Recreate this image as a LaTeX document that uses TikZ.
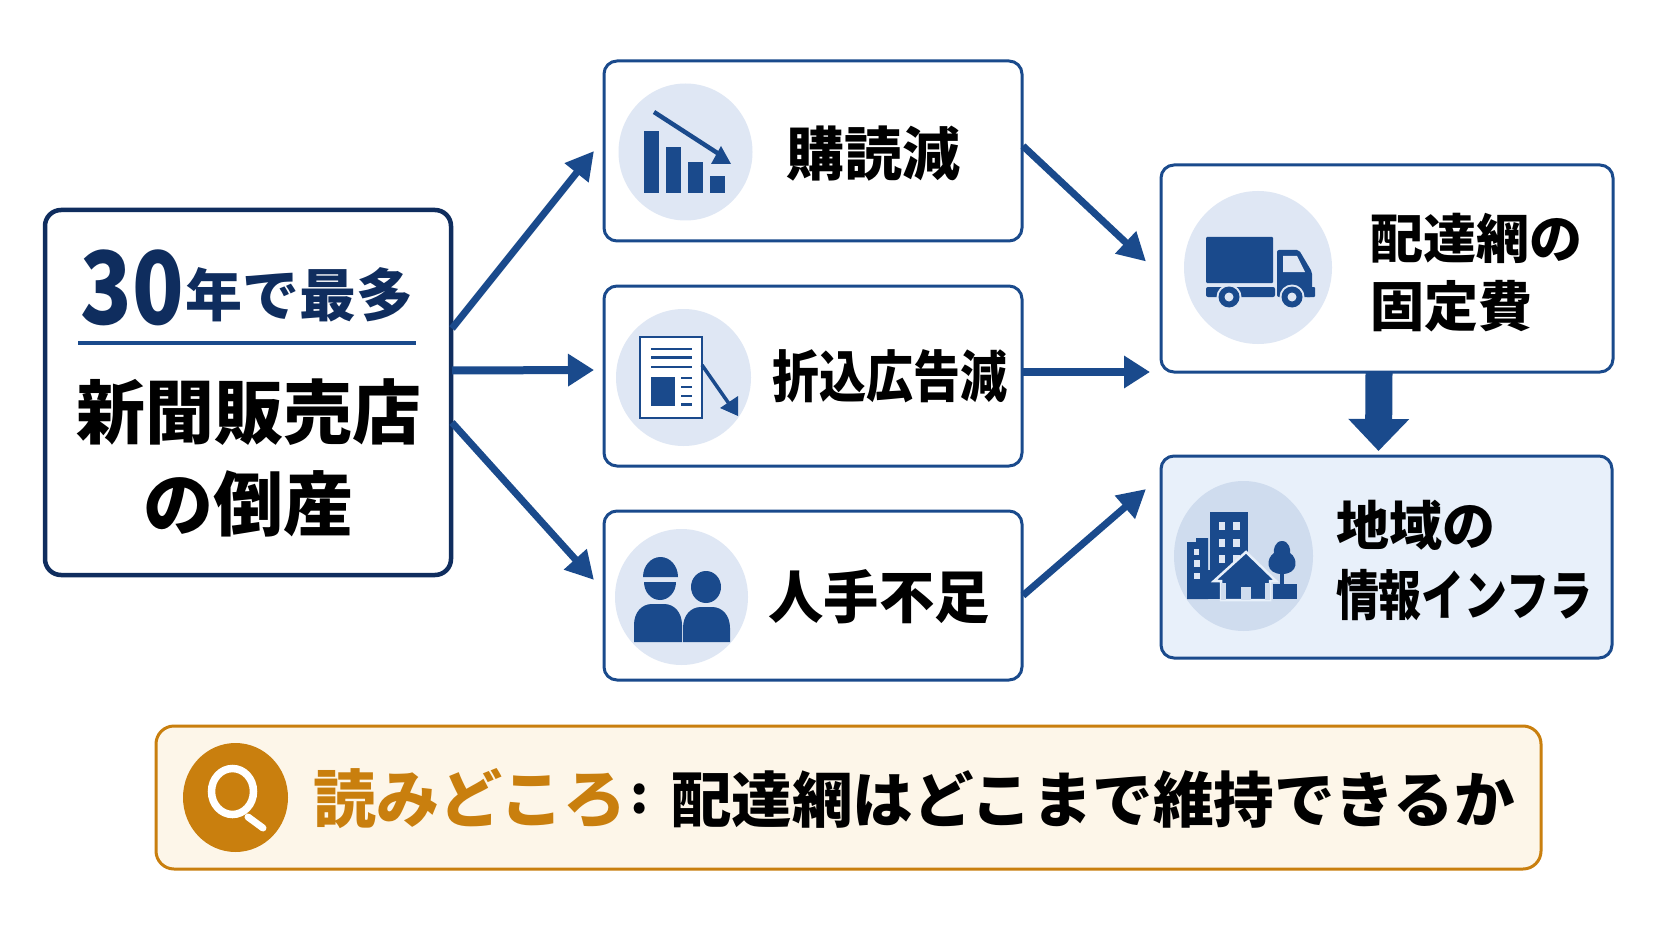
\documentclass[tikz,border=0pt]{standalone}
\usepackage{fontspec}
\usepackage{graphicx}
\usetikzlibrary{arrows.meta,calc}
\newfontfamily\jp{Noto Sans CJK JP}[BoldFont={Noto Sans CJK JP Black}]
\newcommand\jpf[1]{\jp\bfseries\fontsize{#1}{#1}\selectfont}
\newcommand\sx[2]{\scalebox{#1}[1]{#2}}
\definecolor{ablue}{HTML}{1A4A8C}
\definecolor{navy}{HTML}{0F2D5E}
\definecolor{disc}{HTML}{DFE7F4}
\definecolor{disctwo}{HTML}{CFDCEE}
\definecolor{paleblue}{HTML}{E8F0FA}
\definecolor{ochre}{HTML}{C97F0E}
\definecolor{cream}{HTML}{FDF6E9}
\tikzset{
  boxbase/.style={draw=ablue,fill=white,line width=3pt,rounded corners=13pt,inner sep=0pt,outer sep=0pt},
  leftbox/.style={boxbase,draw=navy,line width=4.5pt,rounded corners=16pt},
  infobox/.style={boxbase,fill=paleblue},
  notebox/.style={boxbase,draw=ochre,fill=cream,rounded corners=18pt},
  label/.style={inner sep=0pt,outer sep=0pt,align=center,text=black},
  conn/.style={-{Triangle[length=28pt,width=29pt]},line width=7pt,draw=ablue},
  connflat/.style={-{Triangle[length=26pt,width=31pt]},line width=8pt,draw=ablue},
  connbig/.style={-{Triangle[length=32pt,width=59pt]},line width=27pt,draw=ablue},
  icon/.style={fill=ablue,draw=none},
}
\begin{document}
\begin{tikzpicture}[x=1pt,y=-1pt]
\useasboundingbox[fill=white] (0,0) rectangle (1672,941);
% boxes
\node[leftbox,minimum width=406pt,minimum height=365pt] (left) at (248,392.5) {};
\node[boxbase,minimum width=418pt,minimum height=180pt] (b1) at (813,151) {};
\node[boxbase,minimum width=418pt,minimum height=180pt] (b2) at (813,376) {};
\node[boxbase,minimum width=418pt,minimum height=169pt] (b3) at (813,595.5) {};
\node[boxbase,minimum width=452pt,minimum height=207pt] (r1) at (1387,268.5) {};
\node[infobox,minimum width=451pt,minimum height=202pt] (r2) at (1386.5,557) {};
\node[notebox,minimum width=1385pt,minimum height=143pt] (note) at (848.5,797.5) {};
% connectors
\draw[conn] ($(left.east)+(1,-64)$) -- ($(b1.west)+(-10,0)$);
\draw[connflat] ($(left.east)+(1,-22)$) -- ($(b2.west)+(-10,-6)$);
\draw[conn] ($(left.east)+(1,30)$) -- ($(b3.west)+(-10,-15.5)$);
\draw[conn] ($(b1.east)+(1,-5)$) -- ($(r1.west)+(-15,-7)$);
\draw[connflat] ($(b2.east)+(1,-4)$) -- ($(r1.south west)+(-11,0)$);
\draw[conn] ($(b3.east)+(1,0)$) -- ($(r2.west)+(-15,-68)$);
\draw[connbig] ($(r1.south)+(-8,0)$) -- ($(r2.north)+(-8,-5)$);
% left box text
\node[label,text=navy,font={\jpf{101}}] (t30) at (132,288) {\sx{.84}{30}};
\node[label,text=navy,font={\jpf{57}}] (tyear) at (299,295) {年で最多};
\draw[ablue,line width=3.5pt] (78,343) -- (416,343);
\node[label,font={\jpf{70}}] (tshop) at (249,412) {\sx{.985}{新聞販売店}};
\node[label,font={\jpf{70}}] (tbankrupt) at (248,504) {の倒産};
% middle text
\node[label,font={\jpf{58}}] (tsub) at (873,154) {購読減};
\node[label,font={\jpf{56}}] (tins) at (890,376) {\sx{.84}{折込広告減}};
\node[label,font={\jpf{57}}] (tstaff) at (879,597) {\sx{.97}{人手不足}};
% right text
\node[label,font={\jpf{53}},anchor=west] (tnet) at (1370,238) {配達網の};
\node[label,font={\jpf{54}},anchor=west] (tfix) at (1370,306) {固定費};
\node[label,font={\jpf{53}},anchor=west] (tarea) at (1336,525) {地域の};
\node[label,font={\jpf{54}},anchor=west] (tinfra) at (1336,595) {\sx{.795}{情報インフラ}};
% note text
\node[label,text=ochre,font={\jpf{63}},anchor=west] (tread) at (313,799) {読みどころ};
\node[label,font={\jpf{52}}] (tcolon) at (640,799) {:};
\node[label,font={\jpf{60.5}},anchor=west] (tq) at (671,799) {配達網はどこまで維持できるか};
% discs
\fill[disc] (685.5,152) ellipse (67 and 68.5);
\fill[disc] (683.5,377.5) ellipse (67.5 and 68.5);
\fill[disc] (681.5,597) ellipse (66.5 and 68);
\fill[disc] (1258,267.5) ellipse (74 and 76.5);
\fill[disctwo] (1243.5,556) ellipse (69.5 and 75);
\fill[ochre] (235.5,797.5) ellipse (52.5 and 54.5);
% icon 1: falling bars
\fill[icon] (644,131) rectangle (659,193);
\fill[icon] (666,147) rectangle (681,193);
\fill[icon] (688,162) rectangle (703,193);
\fill[icon] (710,176) rectangle (725,193);
\draw[ablue,line width=4.5pt] (654,112) -- (722,156);
\fill[icon] (721,146) -- (731,164) -- (711,164) -- cycle;
% icon 2: leaflet
\draw[ablue,line width=2.5pt,fill=white] (640,337) rectangle (702,418);
\draw[ablue,line width=2.5pt] (651,349) -- (692,349) (651,357.5) -- (692,357.5) (651,367) -- (692,367);
\fill[icon] (651,377) rectangle (675,406);
\draw[ablue,line width=2.2pt] (681,378) -- (692,378) (681,387) -- (692,387) (681,396) -- (692,396) (681,404.5) -- (692,404.5);
\draw[ablue,line width=3.5pt] (702,365) -- (732,408);
\fill[icon] (738,396) -- (738,416) -- (720,408) -- cycle;
% icon 3: workers
\fill[icon] (643,577) arc[start angle=180,end angle=360,x radius=17.5,y radius=20] -- cycle;
\fill[icon] (644,582) arc[start angle=180,end angle=0,x radius=16,y radius=18] -- cycle;
\fill[icon] (634,642) -- (634,625) .. controls (634,612) and (642,604) .. (652,604) -- (664,604) .. controls (674,604) and (682,612) .. (682,625) -- (682,642) -- cycle;
\fill[icon] (706,587) ellipse (15 and 16);
\fill[icon] (683,642) -- (683,628) .. controls (683,615) and (691,607) .. (701,607) -- (712,607) .. controls (722,607) and (730,615) .. (730,628) -- (730,642) -- cycle;
% icon 4: truck
\fill[icon,rounded corners=1pt] (1206,237) rectangle (1273,283);
\fill[icon,rounded corners=2pt] (1206,287) rectangle (1275,297);
\fill[icon,rounded corners=2pt] (1277,250) -- (1299,250) -- (1312,272) -- (1312,297) -- (1277,297) -- cycle;
\fill[icon,rounded corners=1pt] (1306,287) rectangle (1315,297);
\fill[disc] (1283,256) -- (1297,256) -- (1305,272) -- (1283,272) -- cycle;
\foreach \wx in {1229,1292}{
  \fill[disc] (\wx,297) circle (12.5);
  \fill[icon] (\wx,297) circle (10.5);
  \fill[disc] (\wx,297) circle (4.5);
}
% icon 5: town
\fill[icon] (1210,512) rectangle (1248,575);
\foreach \wy in {522,539,555}{
  \fill[disc] (1219,\wy) rectangle (1225,\wy+8);
  \fill[disc] (1233,\wy) rectangle (1240,\wy+8);
}
\fill[icon] (1187,599) -- (1187,542) -- (1196,542) -- (1196,538) -- (1208,538) -- (1208,599) -- cycle;
\fill[disc] (1194,549) rectangle (1199,555);
\fill[disc] (1194,560) rectangle (1200,567);
\fill[disc] (1194,573) rectangle (1200,579);
\fill[icon] (1208,570) rectangle (1222,599);
\fill[icon] (1273,584) rectangle (1297,599);
\fill[icon] (1279.5,565) rectangle (1284,585);
\fill[icon] (1282,541) .. controls (1275,541) and (1273,550) .. (1274,553) .. controls (1266,558) and (1265,574) .. (1282,574) .. controls (1299,574) and (1298,558) .. (1290,553) .. controls (1291,550) and (1289,541) .. (1282,541) -- cycle;
\draw[paleblue,line width=2.5pt,line join=miter,fill=ablue] (1214,581) -- (1246,552) -- (1276,581) -- (1270,581) -- (1270,600) -- (1221,600) -- (1221,581) -- cycle;
\fill[disctwo] (1221,583) rectangle (1226,600);
\fill[disctwo] (1265,583) rectangle (1270,600);
\fill[disctwo] (1241,587) rectangle (1251,600);
% magnifier
\draw[white,line width=7.5pt] (232.5,791.5) ellipse (21 and 23);
\draw[white,line width=7pt,line cap=round] (248,817) -- (263,828);
\end{tikzpicture}
\end{document}
